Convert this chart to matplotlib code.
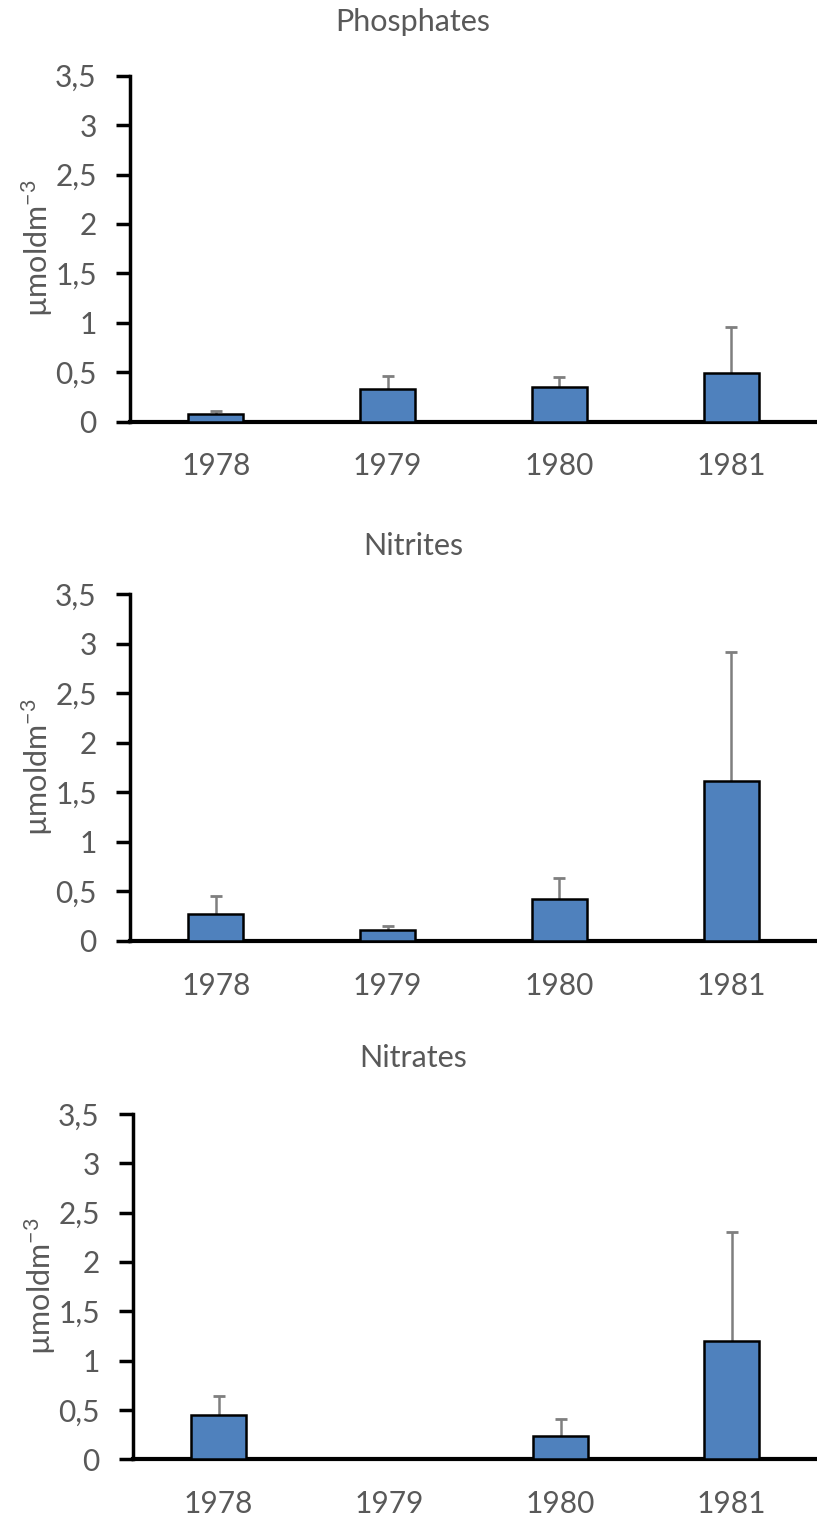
import matplotlib
matplotlib.use("Agg")
import matplotlib.pyplot as plt

years = ["1978", "1979", "1980", "1981"]
titles = ["Phosphates", "Nitrites", "Nitrates"]
phosphates = [0.08, 0.33, 0.35, 0.49]
phosphates_err = [0.03, 0.13, 0.10, 0.47]
nitrites = [0.27, 0.11, 0.42, 1.62]
nitrites_err = [0.18, 0.04, 0.22, 1.30]
nitrates = [0.45, 0.0, 0.24, 1.20]
nitrates_err = [0.19, 0.0, 0.17, 1.10]
yticks = [0, 0.5, 1, 1.5, 2, 2.5, 3, 3.5]
ytick_labels = ["0", "0,5", "1", "1,5", "2", "2,5", "3", "3,5"]
ylabel = "µmoldm$^{-3}$"

values = [phosphates, nitrites, nitrates]
errors = [phosphates_err, nitrites_err, nitrates_err]

W, H = 817, 1519
plt.rcParams['font.family'] = ['Lato', 'DejaVu Sans']
plt.rcParams['mathtext.fontset'] = 'custom'
plt.rcParams['mathtext.rm'] = 'Lato'
plt.rcParams['mathtext.it'] = 'Lato'
fig = plt.figure(figsize=(W / 100, H / 100), dpi=100)

txt = "#595959"
# (left, top, bottom, title_y) in pixels
layout = [
    (130, 75.7, 421.7, 22),
    (130, 594.3, 941.0, 546),
    (133, 1114.0, 1459.3, 1058),
]

for i, (left, top, bottom, ty) in enumerate(layout):
    ax = fig.add_axes([left / W, 1 - bottom / H, (W - left) / W, (bottom - top) / H])
    x = list(range(len(years)))
    ax.bar(x, values[i], width=0.32, color="#4F81BD", edgecolor="black",
           linewidth=1.8, zorder=3)
    tops = [v + e for v, e in zip(values[i], errors[i])]
    ax.vlines(x, values[i], tops, color="#7f7f7f", linewidth=1.8, zorder=2)
    ax.plot(x, tops, linestyle="none", marker="_", markersize=9,
            markeredgewidth=2, color="#7f7f7f", zorder=2)
    ax.set_ylim(0, 3.5)
    ax.set_xlim(-0.5, 3.5)
    ax.set_yticks(yticks)
    ax.set_yticklabels(ytick_labels)
    ax.set_xticks(x)
    ax.set_xticklabels(years)
    for s in ["top", "right"]:
        ax.spines[s].set_visible(False)
    ax.spines["left"].set_linewidth(2.5)
    ax.spines["bottom"].set_linewidth(3)
    ax.tick_params(axis="y", direction="out", length=10, width=2.5,
                   labelsize=21.5, labelcolor=txt, pad=14)
    ax.tick_params(axis="x", length=0, labelsize=21.5, labelcolor=txt, pad=22)
    ax.set_ylabel(ylabel, fontsize=22, color=txt)
    ax.yaxis.set_label_coords(-(left - 55 - (left - 130)) / (W - left), 0.5)
    fig.text(413 / W, 1 - ty / H, titles[i], ha="center", va="center",
             fontsize=22, color=txt)

fig.savefig("out.png", dpi=100)
